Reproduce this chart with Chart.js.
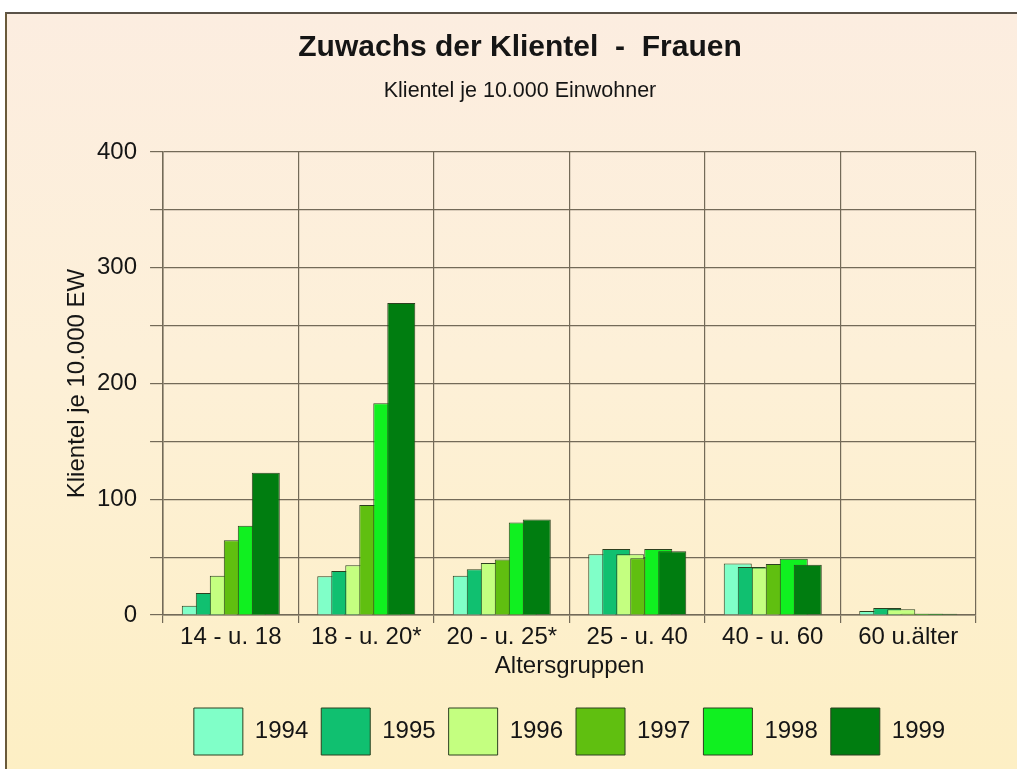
<!DOCTYPE html>
<html>
<head>
<meta charset="utf-8">
<script src="https://cdn.jsdelivr.net/npm/chart.js@4.4.1/dist/chart.umd.min.js"></script>
<style>
  html, body { margin: 0; padding: 0; background: #fff; }
  #frame {
    position: absolute; left: 5px; top: 12px; width: 1012px; height: 757px;
    border-top: 2px solid #5a5248; border-left: 2px solid #6a5a3a;
    background: linear-gradient(to bottom, #fcede0 0%, #fdf0d8 45%, #fdefc4 100%);
  }
  #wrap { position: absolute; left: 0; top: 0; width: 1017px; height: 769px; }
</style>
</head>
<body>
<div id="frame"></div>
<div id="wrap"><canvas id="canvas" width="1017" height="769"></canvas></div>
<script>
'use strict';

const categories = ['14 - u. 18', '18 - u. 20*', '20 - u. 25*', '25 - u. 40', '40 - u. 60', '60 u.älter'];
const years = ['1994', '1995', '1996', '1997', '1998', '1999'];

const v1994 = [8, 33.5, 34, 52.5, 44.5, 3.5];
const v1995 = [19, 38, 39.5, 57, 41.5, 6];
const v1996 = [34, 43, 45, 52.5, 41, 5];
const v1997 = [64.5, 95, 48, 49, 44, 1];
const v1998 = [77, 183, 80, 57, 48.5, 1];
const v1999 = [123, 269.5, 82.5, 55, 43.5, 1];

const colors = ['#80ffc8', '#10c070', '#c4ff80', '#60bf10', '#10f020', '#007d10'];

const ctx = document.getElementById('canvas').getContext('2d');

// later years sit on top of earlier ones, like the original
const drawInOrder = {
  id: 'drawInOrder',
  beforeDatasetsDraw(chart) {
    chart.data.datasets.forEach((ds, i) => {
      const meta = chart.getDatasetMeta(i);
      if (meta.visible) meta.controller.draw();
    });
    return false;
  },
};

const gridColor = '#736a58';
const textColor = '#151515';
const font = 'Liberation Sans, Arial, sans-serif';

new Chart(ctx, {
  type: 'bar',
  data: {
    labels: categories,
    datasets: [v1994, v1995, v1996, v1997, v1998, v1999].map((d, i) => ({
      label: years[i],
      data: d,
      backgroundColor: colors[i],
      borderColor: '#2d4020',
      borderWidth: 1,
      borderSkipped: 'bottom',
      barPercentage: 2,
      categoryPercentage: 0.62,
    })),
  },
  options: {
    responsive: false,
    animation: false,
    layout: { padding: { left: 64, right: 41, top: 0, bottom: 4 } },
    scales: {
      x: {
        ticks: {
          color: textColor, font: { family: font, size: 24, lineHeight: 1 },
          padding: 2, autoSkip: false, maxRotation: 0,
        },
        grid: { color: gridColor, lineWidth: 1.2, tickLength: 8 },
        border: { color: gridColor, width: 1.5 },
        title: {
          display: true, text: 'Altersgruppen', color: textColor,
          font: { family: font, size: 24, lineHeight: 1 },
          padding: { top: 3, bottom: 17 },
        },
      },
      y: {
        min: 0, max: 400,
        ticks: {
          stepSize: 50, color: textColor, padding: 13,
          font: { family: font, size: 24, lineHeight: 1 },
          callback: (v) => (v % 100 === 0 ? v : ''),
        },
        grid: { color: gridColor, lineWidth: 1.2, tickLength: 13 },
        border: { color: gridColor, width: 1.5 },
        title: {
          display: true, text: 'Klientel je 10.000 EW', color: textColor,
          font: { family: font, size: 24, lineHeight: 1 },
          padding: { top: 1, bottom: -5 },
        },
      },
    },
    plugins: {
      title: {
        display: true, text: 'Zuwachs der Klientel  -  Frauen', color: textColor,
        font: { family: font, size: 30, weight: 'bold', lineHeight: 1 },
        padding: { top: 33, bottom: 17.5 },
      },
      subtitle: {
        display: true, text: 'Klientel je 10.000 Einwohner', color: textColor,
        font: { family: font, size: 21.5, lineHeight: 1 },
        padding: { top: 0, bottom: 50 },
      },
      legend: {
        position: 'bottom',
        fullSize: false,
        labels: {
          boxWidth: 49, boxHeight: 47, padding: 13, color: textColor,
          font: { family: font, size: 24 },
        },
      },
      tooltip: { enabled: false },
    },
  },
  plugins: [drawInOrder],
});
</script>
</body>
</html>
